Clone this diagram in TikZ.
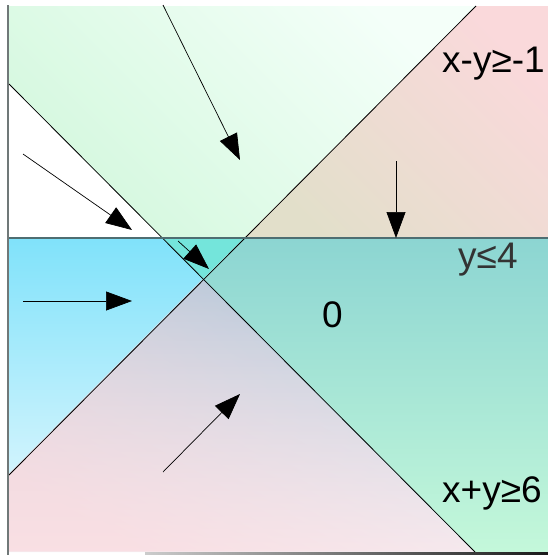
\documentclass[tikz,border=0pt]{standalone}
\usepackage{fontspec}
\setmainfont{Liberation Sans}
\usetikzlibrary{arrows.meta,calc,positioning,fadings}
\definecolor{gtop}{HTML}{F4FFF9}
\definecolor{gbot}{HTML}{D4F8DE}
\definecolor{ptop}{HTML}{FAD9DB}
\definecolor{pbot}{HTML}{E2DFCA}
\definecolor{turq}{HTML}{74E5DB}
\definecolor{btop}{HTML}{80E2FA}
\definecolor{bbot}{HTML}{D2F4FD}
\definecolor{ltop}{HTML}{B3C8DA}
\definecolor{lbot}{HTML}{F3F2F7}
\definecolor{lpink}{HTML}{FCD8DC}
\definecolor{ttop}{HTML}{8CD5D2}
\definecolor{tbot}{HTML}{C4F8DA}
\definecolor{hline}{HTML}{4E6E72}
\definecolor{axis}{HTML}{707878}

\begin{document}
\begin{tikzpicture}[
      x=1pt, y=-1pt,
      bound/.style={draw=black, line width=0.8pt},
      flow/.style={-{Triangle[length=26pt,width=19pt]}, line width=0.7pt},
      lbl/.style={font=\fontsize{37}{44}\selectfont, inner sep=0pt, anchor=base west},
]
\useasboundingbox (0,0) rectangle (548,555);

\coordinate (X) at (203,279);
\coordinate (P1) at (9,84);
\coordinate (Q1) at (475,552);
\coordinate (P2) at (9,475);
\coordinate (Q2) at (476,6);
\coordinate (H1) at (162,238);
\coordinate (H2) at (244,238);
\coordinate (HL) at (9,238);
\coordinate (HR) at (548,238);

% regions
\fill[white] (P1) -- (HL) -- (H1) -- cycle;
\shade[top color=gtop, bottom color=gbot, shading angle=-45] (9,6) -- (Q2) -- (H2) -- (H1) -- (P1) -- cycle;
\shade[top color=ptop, bottom color=pbot, shading angle=-45] (Q2) -- (548,6) -- (HR) -- (H2) -- cycle;
\fill[turq] (H1) -- (H2) -- (X) -- cycle;
\shade[top color=btop, bottom color=bbot] (HL) -- (H1) -- (X) -- (P2) -- cycle;
\shade[top color=ltop, bottom color=lbot] (X) -- (Q1) -- (9,552) -- (P2) -- cycle;
\fill[lpink, path fading=north, fading angle=-45, fill opacity=0.7] (X) -- (Q1) -- (9,552) -- (P2) -- cycle;
\shade[top color=ttop, bottom color=tbot] (H2) -- (HR) -- (548,552) -- (Q1) -- (X) -- cycle;

% bounds
\draw[bound] (P1) -- (Q1);
\draw[bound] (P2) -- (Q2);
\draw[hline, line width=1.5pt] (HL) -- (HR);
\draw[axis, line width=2.5pt] (8,5) -- (8,555);
\shade[left color=gray!40, right color=black!90] (145,552) rectangle (548,555);

% arrows
\coordinate (a1s) at (163,5);
\coordinate (a1e) at (240,160);
\coordinate (a2s) at (23,154);
\coordinate (a2e) at (132,230);
\coordinate (a3s) at (178,241);
\coordinate (a3e) at (209,269);
\coordinate (a4s) at (396,161);
\coordinate (a4e) at (396,238);
\coordinate (a5s) at (23,301);
\coordinate (a5e) at (132,301);
\coordinate (a6s) at (163,472);
\coordinate (a6e) at (240,394);
\draw[flow] (a1s) -- (a1e);
\draw[flow] (a2s) -- (a2e);
\draw[flow] (a3s) -- (a3e);
\draw[flow] (a4s) -- (a4e);
\draw[flow] (a5s) -- (a5e);
\draw[flow] (a6s) -- (a6e);

% labels
\node[lbl] (c1) at (442,72) {x-y≥-1};
\node[lbl, text=black!80] (c2) at (458,268) {y≤4};
\node[lbl] (zero) at (322,327) {0};
\node[lbl] (c3) at (442,502) {x+y≥6};

\end{tikzpicture}
\end{document}
